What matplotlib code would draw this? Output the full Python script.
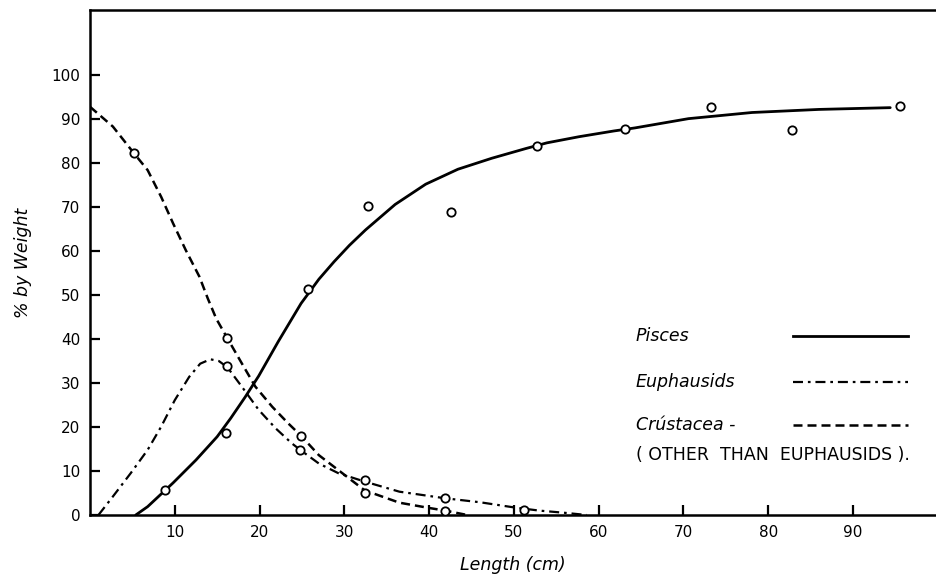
import matplotlib
matplotlib.use('Agg')
import matplotlib.pyplot as plt

plt.rcParams['font.family'] = ['DejaVu Sans']

# observed points (open circles)
pisces_x = [8.8, 16.0, 25.7, 32.8, 42.6, 52.7, 63.1, 73.2, 82.8, 95.5]
pisces_y = [5.7, 18.6, 51.3, 70.3, 68.9, 83.9, 87.7, 92.7, 87.5, 93.0]
euph_x = [16.2, 24.8, 32.4, 41.9, 51.2]
euph_y = [33.9, 14.8, 8.0, 3.8, 1.1]
crust_x = [5.2, 16.2, 24.9, 32.4, 41.9]
crust_y = [82.2, 40.2, 18.0, 5.1, 1.0]

# hand-fitted curves
pisces_cx = [5.4, 6.8, 9.8, 12.5, 15.0, 16.6, 18.3, 19.9, 22.2, 24.9, 27.0, 28.8, 30.6,
             32.5, 36.0, 39.6, 43.4, 47.4, 51.4, 53.9, 57.7, 61.8, 64.3, 70.6, 78.1, 86.0, 94.4]
pisces_cy = [0.0, 1.9, 7.3, 12.5, 17.8, 22.0, 26.8, 31.6, 39.4, 48.1, 53.6, 57.6, 61.3,
             64.8, 70.6, 75.2, 78.6, 81.1, 83.3, 84.6, 86.0, 87.3, 88.0, 90.1, 91.5, 92.2, 92.6]
euph_cx = [1.0, 2.7, 4.8, 6.8, 8.4, 10.0, 11.7, 13.0, 14.2, 15.2, 16.2, 17.9, 19.9, 21.9,
           23.8, 24.8, 27.0, 29.3, 32.4, 36.5, 41.9, 46.0, 50.1, 53.0, 56.0, 58.6]
euph_cy = [0.0, 4.2, 9.5, 14.8, 20.1, 26.1, 31.4, 34.4, 35.4, 35.0, 33.6, 29.2, 23.9, 19.7,
           16.3, 14.8, 11.7, 9.5, 7.6, 5.3, 3.8, 2.9, 1.7, 1.0, 0.5, 0.0]
crust_cx = [0.0, 2.7, 5.2, 6.8, 8.4, 9.8, 11.3, 12.9, 13.9, 14.9, 16.2, 17.9, 19.5, 21.5,
            23.4, 24.9, 27.0, 29.3, 32.4, 36.5, 40.0, 41.9, 44.5]
crust_cy = [92.8, 88.3, 82.2, 78.4, 72.3, 66.3, 60.2, 54.2, 49.2, 44.6, 40.2, 34.5, 29.2, 24.6,
            20.8, 18.0, 13.6, 10.2, 5.6, 2.8, 1.6, 1.0, 0.0]

xticks = [10, 20, 30, 40, 50, 60, 70, 80, 90]
yticks = [0, 10, 20, 30, 40, 50, 60, 70, 80, 90, 100]

fig = plt.figure(figsize=(9.36, 5.86), dpi=100)
ax = fig.add_axes([90/936, 71/586, 846/936, 505/586])

ax.plot(pisces_cx, pisces_cy, color='k', lw=2.0, solid_capstyle='round')
ax.plot(euph_cx, euph_cy, color='k', lw=1.6, dashes=(4.5, 2.2, 1.2, 2.2))
ax.plot(crust_cx, crust_cy, color='k', lw=1.8, dashes=(3.6, 2.0))

mk = dict(ls='none', marker='o', ms=6, mfc='white', mec='k', mew=1.3, zorder=5)
ax.plot(pisces_x, pisces_y, **mk)
ax.plot(euph_x, euph_y, **mk)
ax.plot(crust_x, crust_y, **mk)

ax.set_xlim(0, 99.8)
ax.set_ylim(0, 114.8)
ax.set_xticks(xticks)
ax.set_yticks(yticks)
ax.tick_params(direction='in', length=7, width=1.6, labelsize=11, pad=7)
for s in ['left', 'bottom', 'top']:
    ax.spines[s].set_linewidth(1.8)
ax.spines['right'].set_visible(False)

ax.set_xlabel('Length (cm)', fontsize=12.5, style='italic', labelpad=12)
ax.set_ylabel('% by Weight', fontsize=12.5, style='italic', labelpad=14)

# legend drawn by hand: label on the left, line sample on the right
tx, l0, l1 = 0.645, 0.831, 0.967
rows = [('Pisces', 0.354, dict(lw=2.0)),
        ('Euphausids', 0.263, dict(lw=1.6, dashes=(4.5, 2.2, 1.2, 2.2))),
        ('Crústacea -', 0.178, dict(lw=1.8, dashes=(3.6, 2.0)))]
for lab, y, st in rows:
    ax.text(tx, y, lab, transform=ax.transAxes, fontsize=12.5, style='italic', va='center')
    ax.plot([l0, l1], [y, y], transform=ax.transAxes, color='k', **st)
ax.text(tx, 0.119, '( OTHER  THAN  EUPHAUSIDS ).', transform=ax.transAxes,
        fontsize=12.5, va='center')

fig.savefig('out.png', dpi=100)
